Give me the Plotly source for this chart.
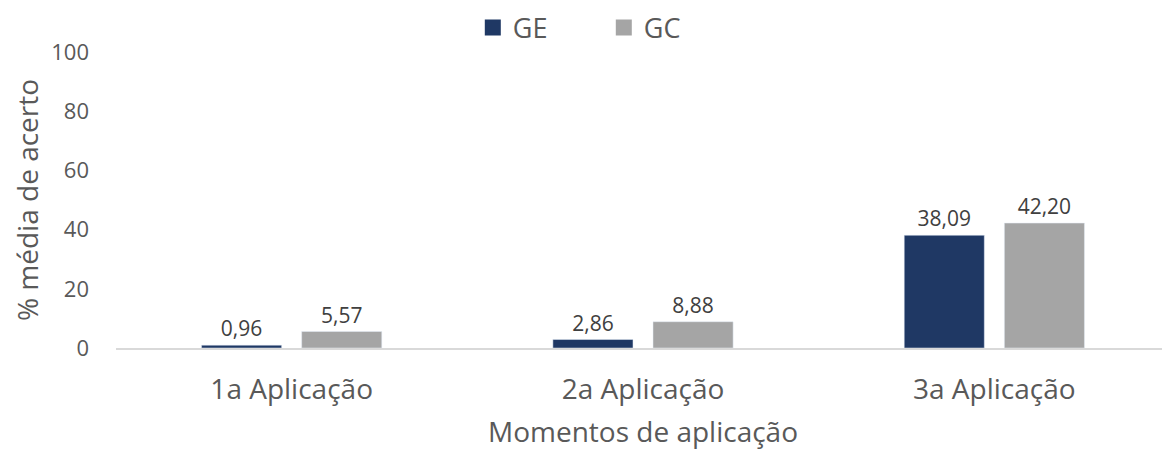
import plotly.graph_objects as go

# Categories and series values
categories = ['1a Aplicação', '2a Aplicação', '3a Aplicação']
ge_values = [0.96, 2.86, 38.09]
gc_values = [5.57, 8.88, 42.20]
y_ticks = [0, 20, 40, 60, 80, 100]

font_family = 'Open Sans, Liberation Sans, sans-serif'
ge_color = '#1F3864'
gc_color = '#A5A5A5'


def fmt(values):
    # Brazilian decimal comma
    return [f"{v:.2f}".replace('.', ',') for v in values]


plot_data = [
    go.Bar(
        x=categories,
        y=ge_values,
        name='GE',
        marker=dict(color=ge_color),
        text=fmt(ge_values),
        textposition='outside',
        textfont=dict(size=21, color='#404040', family=font_family),
        cliponaxis=False,
        showlegend=False,
    ),
    go.Bar(
        x=categories,
        y=gc_values,
        name='GC',
        marker=dict(color=gc_color),
        text=fmt(gc_values),
        textposition='outside',
        textfont=dict(size=21, color='#404040', family=font_family),
        cliponaxis=False,
        showlegend=False,
    ),
    # legend-only entries so the square swatches are bigger
    go.Scatter(
        x=[None], y=[None], mode='markers', name='GE',
        marker=dict(symbol='square', size=18, color=ge_color),
    ),
    go.Scatter(
        x=[None], y=[None], mode='markers', name='GC',
        marker=dict(symbol='square', size=18, color=gc_color),
    ),
]

# page body adds an 8px margin, so the figure is 8px smaller than the window
plot_layout = go.Layout(
    width=1162,
    height=442,
    margin=dict(l=108, r=0, t=44, b=102, autoexpand=False),
    paper_bgcolor='white',
    plot_bgcolor='white',
    font=dict(family=font_family, color='#595959'),
    barmode='group',
    bargap=0.43,
    bargroupgap=0.2,
    showlegend=True,
    legend=dict(
        orientation='h',
        xref='container',
        x=0.40,
        xanchor='left',
        yref='container',
        y=0.955,
        yanchor='middle',
        font=dict(size=27, color='#595959'),
        entrywidth=86,
        traceorder='normal',
        itemsizing='trace',
    ),
    xaxis=dict(
        showline=True,
        linecolor='#D9D9D9',
        linewidth=1.5,
        showgrid=False,
        ticks='',
        ticklabelstandoff=16,
        tickfont=dict(size=28, color='#595959'),
        title=dict(text='Momentos de aplicação', font=dict(size=28, color='#595959'), standoff=24),
    ),
    yaxis=dict(
        range=[0, 100],
        tickvals=y_ticks,
        showgrid=False,
        zeroline=False,
        showline=False,
        ticks='',
        ticklabelstandoff=26,
        tickfont=dict(size=22, color='#595959'),
        title=dict(text='% média de acerto', font=dict(size=28, color='#595959'), standoff=10),
    ),
)

fig = go.Figure(data=plot_data, layout=plot_layout)
fig.write_html('out.html')
